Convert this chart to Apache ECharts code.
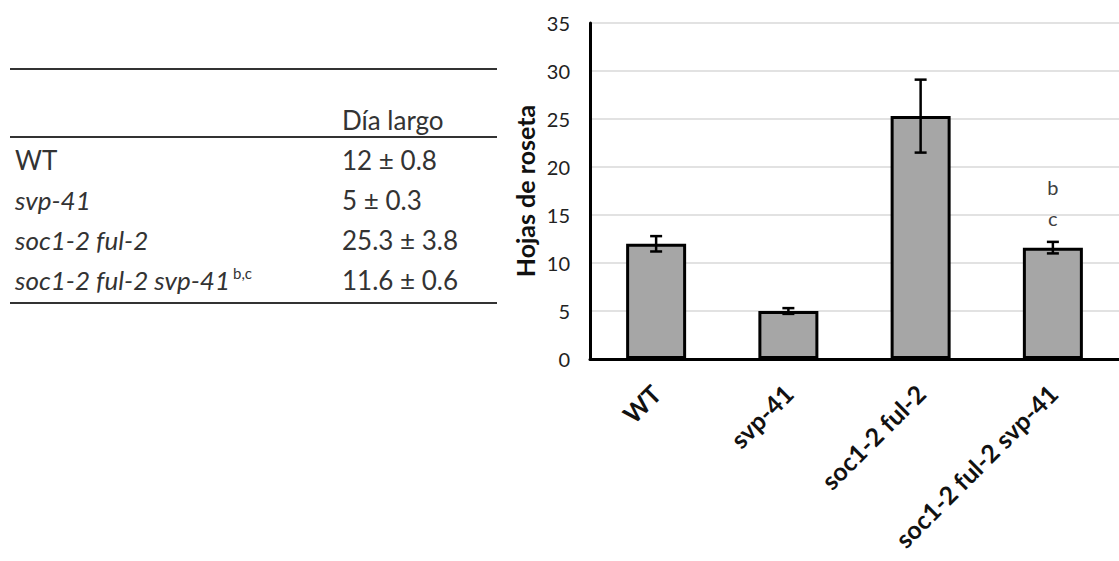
<!DOCTYPE html>
<html><head><meta charset="utf-8">
<script src="https://cdn.jsdelivr.net/npm/echarts@6/dist/echarts.min.js"></script>
<style>html,body{margin:0;padding:0;background:#fff;}#c{width:1119px;height:561px;}</style>
</head><body><div id="c"></div>
<script>
// ---- data ----
const genotypes = ['WT', 'svp-41', 'soc1-2 ful-2', 'soc1-2 ful-2 svp-41'];
const rosetteLeaves = [12, 5, 25.3, 11.6];
const rosetteSE = [0.8, 0.3, 3.8, 0.6];
const significance = ['', '', '', 'b,c'];
const yMin = 0, yMax = 35, yInterval = 5;
const tableHeader = 'Día largo';
const axisTitle = 'Hojas de roseta';

const FONT = 'Lato, "Open Sans", sans-serif';
const chart = echarts.init(document.getElementById('c'), null, {renderer: 'svg'});

// ---- table (graphic elements) ----
const tableGraphics = [];
const lineStyle = {stroke: '#333', lineWidth: 2};
[69, 137, 303].forEach(y => tableGraphics.push({type: 'line', shape: {x1: 10, y1: y, x2: 497, y2: y}, style: lineStyle}));
tableGraphics.push({type: 'text', x: 342, y: 120, style: {text: tableHeader, fontFamily: FONT, fontSize: 26, fill: '#333', verticalAlign: 'middle'}});
genotypes.forEach((g, i) => {
  const y = 160 + i * 40;
  const italic = g === 'WT' ? 'normal' : 'italic';
  const sup = significance[i] ? '{s|' + significance[i] + '}' : '';
  tableGraphics.push({type: 'text', x: 15, y: y, style: {
    text: '{n|' + g + '}' + sup, verticalAlign: 'middle', fill: '#333',
    rich: {
      n: {fontFamily: FONT, fontSize: 26, fontStyle: italic, fill: '#333', lineHeight: 30},
      s: {fontFamily: FONT, fontSize: 15, fill: '#333', verticalAlign: 'top', padding: [0, 0, 0, 3]}
    }
  }});
  tableGraphics.push({type: 'text', x: 342, y: y, style: {
    text: rosetteLeaves[i] + ' ± ' + rosetteSE[i], fontFamily: FONT, fontSize: 26, fill: '#333', verticalAlign: 'middle'
  }});
});

const option = {
  backgroundColor: '#fff',
  animation: false,
  textStyle: {fontFamily: FONT},
  grid: {left: 590, right: -6, top: 23, bottom: 202, containLabel: false},
  xAxis: {
    type: 'category', data: genotypes,
    axisLine: {lineStyle: {color: '#000', width: 3}},
    axisTick: {show: false},
    axisLabel: {rotate: 45, interval: 0, fontSize: 25, fontWeight: 'bold', color: '#111', margin: 30, fontFamily: FONT}
  },
  yAxis: {
    type: 'value', min: yMin, max: yMax, interval: yInterval,
    name: axisTitle, nameLocation: 'middle', nameGap: 53,
    nameTextStyle: {fontSize: 25, fontWeight: 'bold', color: '#111', fontFamily: FONT},
    axisLine: {show: true, lineStyle: {color: '#000', width: 3}},
    axisTick: {show: false},
    axisLabel: {fontSize: 20, color: '#222', margin: 20, fontFamily: FONT},
    splitLine: {lineStyle: {color: '#d9d9d9', width: 1.5}}
  },
  graphic: tableGraphics,
  series: [
    {
      type: 'bar', data: rosetteLeaves, barWidth: 60,
      itemStyle: {color: '#a6a6a6', borderColor: '#000', borderWidth: 3},
      label: {
        show: true, position: 'top', distance: 14,
        formatter: p => significance[p.dataIndex].split(',').join('\n'),
        fontSize: 20, lineHeight: 31, color: '#404040', fontFamily: FONT
      },
      z: 2
    },
    {
      type: 'custom',
      data: rosetteLeaves.map((m, i) => [i, m - rosetteSE[i], m + rosetteSE[i]]),
      renderItem: (params, api) => {
        const x = api.value(0);
        const lo = api.coord([x, api.value(1)]);
        const hi = api.coord([x, api.value(2)]);
        const half = 6;
        const st = {stroke: '#000', lineWidth: 2.5};
        return {type: 'group', children: [
          {type: 'line', shape: {x1: lo[0], y1: lo[1], x2: hi[0], y2: hi[1]}, style: st},
          {type: 'line', shape: {x1: lo[0] - half, y1: lo[1], x2: lo[0] + half, y2: lo[1]}, style: st},
          {type: 'line', shape: {x1: hi[0] - half, y1: hi[1], x2: hi[0] + half, y2: hi[1]}, style: st}
        ]};
      },
      z: 5
    }
  ]
};
chart.setOption(option);
</script>
</body></html>
